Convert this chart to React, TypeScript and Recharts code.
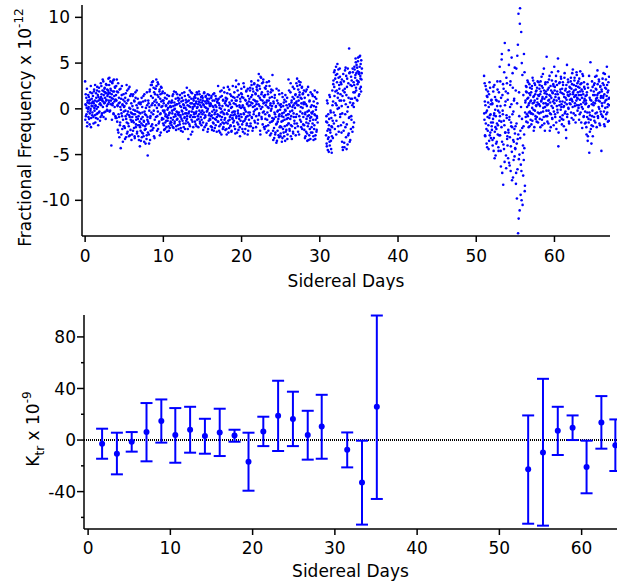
import { ScatterChart, Scatter, XAxis, YAxis, ErrorBar, ReferenceLine, Label } from "recharts";

const FONT = "'DejaVu Sans', Verdana, sans-serif";
const BLUE = "#0000ff";
const STEP = 0.05; // days between readings of one pass; the second pass sits half a step later

// top panel: fractional frequency (x 10^-12), three runs, two passes each
const runAStart = 0;
const runA = [
  3.0, 0.5, -0.8, 1.2, 0.1, -1.9, 0.7, -0.3, 1.5, 0.2, -1.1, 0.9, -0.5, 1.8, 0.0, -2.0, 0.6, 1.1, -0.7, 0.3,
  1.4, -0.9, 0.6, 2.1, -0.2, 0.9, -1.5, 0.3, 1.7, -0.6, 0.8, 2.4, -1.1, 0.2, 1.3, -0.4, 1.9, 0.5, -1.3, 1.0,
  2.8, 0.4, 1.6, -0.5, 1.1, 3.2, 0.8, -0.9, 1.9, 0.6, 2.3, 1.2, -0.3, 1.7, 0.9, 2.6, -0.1, 1.4, 0.5, 2.0,
  1.8, 0.7, 3.4, 1.3, -0.2, 2.2, 0.9, -4.0, 1.6, 2.9, 0.4, 1.1, 3.1, -0.6, 1.9, 0.8, 2.4, 1.0, -1.0, 1.5,
  0.9, 3.2, -1.4, 0.3, 1.8, -2.6, 0.6, -0.9, 2.1, -1.8, 0.2, -4.3, 1.1, -0.5, 2.5, -2.2, 0.4, -1.2, 1.6, -0.3,
  -1.9, 0.8, -3.3, -0.2, 1.7, -1.1, 2.6, -2.7, -0.6, 0.9, -1.6, 2.2, -3.0, 0.1, -0.9, 1.4, -2.3, -0.4, 0.6, -1.4,
  -2.8, 0.3, -1.3, 1.6, -0.6, -2.1, 0.8, -3.2, -0.2, 1.2, -1.7, -0.9, 2.0, -2.5, 0.1, -1.1, -3.0, 0.6, -0.4, -1.8,
  -4.1, -0.5, -2.4, 0.7, -1.6, -3.1, 0.2, -0.9, -2.7, 1.4, -1.3, -3.6, -0.3, -1.9, 0.9, -2.2, -0.7, -3.3, 1.8, -1.2,
  -5.1, -1.4, 0.6, -2.8, -0.2, 1.9, -3.4, -0.8, 2.6, -1.9, 0.4, 2.9, -2.3, 1.2, -0.6, 2.3, -3.0, 0.8, -1.2, 1.6,
  2.2, -0.9, 3.2, 0.7, -2.4, 1.5, -0.3, 2.7, -1.6, 0.4, 1.9, -2.9, 1.1, -0.5, 2.4, 0.2, -1.2, 1.7, 0.9, -0.2,
  -1.1, 0.6, -2.3, -0.2, 1.2, -1.5, -0.6, 0.4, -2.0, -0.9, 1.5, -1.3, 0.1, -0.7, -2.4, 0.8, -0.4, -1.6, 0.3, -1.0,
  0.2, -1.8, 0.9, -0.5, -1.2, 1.6, -2.1, -0.1, 0.7, -1.4, 0.4, -0.8, 1.8, -1.9, -0.3, 0.5, -1.1, 1.2, -0.6, -2.2,
  -0.4, 1.1, -1.7, 0.3, -0.9, -2.4, 0.8, -0.2, 1.7, -1.3, -0.6, 0.5, -2.0, 0.1, -1.0, 1.4, -0.5, -1.6, 0.7, -0.1,
  2.3, -0.8, 0.4, -1.5, -3.3, 0.9, -0.3, 1.3, -1.9, 0.2, -0.7, 1.8, -1.2, 0.6, -2.5, 0.0, -0.9, 1.1, -0.4, 0.5,
  0.3, -1.4, 1.2, -0.5, 0.8, -1.9, 0.1, 1.6, -0.8, 0.5, -1.1, 1.9, -0.2, 0.7, -1.6, 1.0, -0.4, 0.2, -1.2, 1.4,
  -0.6, 0.9, -2.3, 0.4, 1.7, -1.0, 0.2, -0.7, 1.3, -1.8, 0.6, -0.3, 1.1, -2.5, 0.0, 0.8, -1.3, 1.5, -0.5, 0.3,
  -1.2, 0.5, -0.8, 1.4, -2.0, -0.3, 0.9, -1.5, 0.2, -2.4, 1.7, -0.6, -1.1, 0.4, -1.8, 1.1, -0.2, -0.9, 0.7, -1.4,
  2.5, -0.7, 0.6, -1.9, 0.1, -2.6, 1.3, -0.4, -1.2, 2.0, -0.9, 0.3, -2.2, 1.0, -0.5, -1.6, 1.8, -0.1, -1.0, 0.8,
  -1.5, 0.4, -2.8, 1.1, -0.6, 2.4, -1.3, -0.2, -2.1, 0.7, -0.9, 1.6, -1.8, 0.1, -2.5, 0.9, -0.4, -1.1, 1.3, -0.7,
  0.6, -1.9, 1.2, -0.3, -2.7, 0.9, 3.1, -0.8, 0.3, -1.5, 2.0, -0.5, -2.3, 1.5, -1.1, 0.2, -3.0, 0.8, -0.6, 1.7,
  -0.9, 1.3, -2.2, 0.4, -1.4, 2.8, -0.6, 0.1, -2.7, 1.0, -1.1, -0.3, 1.9, -1.8, 0.6, -0.8, 2.2, -2.4, 0.3, -1.2,
  1.1, -0.4, 2.3, -1.6, 0.7, 3.0, -0.9, 1.5, -2.4, 0.2, 1.9, -0.6, 2.7, -1.3, 0.9, -0.1, 1.6, -2.0, 0.5, 2.1,
  0.8, 2.6, -1.2, 1.4, 3.8, -0.5, 0.3, 2.2, -2.8, 1.0, 3.4, -0.9, 1.8, 0.2, -1.7, 2.9, 0.6, -0.3, 1.3, -2.2,
  1.5, -1.1, 0.4, 2.5, -2.6, 0.9, -0.4, 1.9, -1.8, 0.1, 3.0, -0.8, 1.2, -2.9, 0.6, -0.2, 2.1, -1.4, 0.3, 3.7,
  -1.3, -3.4, 0.6, -2.1, -0.4, 1.5, -2.8, -0.9, 0.3, -3.7, -1.6, 0.9, -2.4, -0.2, -1.1, 2.0, -3.1, -0.6, 0.4, -1.9,
  -2.7, 0.2, -1.4, -3.6, -0.5, 1.3, -2.2, -0.9, 0.7, -3.0, -1.2, -0.1, 1.5, -2.5, -0.7, 0.4, -1.8, -3.3, 0.1, -1.0,
  3.2, -1.6, 0.5, -2.4, -0.3, 1.8, -3.0, -0.8, 0.9, -1.9, 0.2, 2.4, -2.7, -0.5, 1.1, -1.3, 0.6, -2.1, 1.6, -0.9,
  2.8, -0.6, 3.3, 0.4, -1.9, 2.1, 0.9, -2.8, 1.5, 2.6, -0.3, 1.2, -1.4, 0.6, 2.3, -2.2, 0.1, 1.7, -0.9, 0.5,
  -1.8, 0.7, -3.2, -0.4, 1.9, -2.5, -1.1, 0.3, -3.5, -0.8, 2.4, -1.6, -0.2, -2.9, 0.9, -1.3, -3.3, 0.2, -0.9, -2.0,
  -0.5, -2.6, 1.4, -1.2, -3.4, 0.3, -1.8, 2.0, -0.7, -2.9, -0.1, 1.1, -2.3, -1.0, 0.6,
];
const runA2 = [
  -1.2, 1.6, 0.4, -0.6, 2.2, -1.5, 0.9, 0.0, -0.9, 1.3, 0.6, -1.7, 1.0, -0.2, 2.5, -1.0, 0.3, 1.7, -0.4, 0.8,
  0.7, -1.6, 1.9, 0.1, -0.7, 2.6, 0.4, -1.0, 1.2, 0.0, 2.0, -0.5, 1.5, -1.8, 0.9, 2.3, -0.3, 1.1, 0.6, -0.9,
  1.3, 2.5, -0.7, 0.9, 2.0, 0.2, 3.0, 1.5, -0.4, 2.2, 0.7, 1.8, -1.1, 2.7, 1.0, 0.3, 2.1, -0.2, 1.6, 3.3,
  0.9, 2.6, -0.3, 1.7, 3.0, 0.5, 2.0, 1.2, -1.2, 2.8, 0.6, 1.9, -0.5, 3.2, 1.4, 0.2, 2.3, -0.8, 1.0, 2.5,
  -1.0, 1.9, 0.4, -2.3, 2.8, -0.6, 1.2, -3.1, 0.7, -1.5, 2.2, -0.1, -2.8, 1.5, -0.8, 0.5, -3.6, 1.0, -1.9, 0.2,
  0.3, -2.1, 1.2, -0.8, -3.1, 0.6, -1.5, 2.0, -2.5, -0.3, 1.0, -1.9, -0.7, 2.4, -2.9, 0.0, -1.2, 1.6, -3.4, -0.5,
  -0.9, 1.4, -2.4, -0.1, -1.5, 0.9, -3.0, -0.6, 1.8, -2.0, -1.2, 0.4, -2.7, -0.3, 1.1, -1.8, -0.8, -3.4, 0.7, -1.4,
  -2.0, 0.5, -3.5, -1.1, 1.2, -2.6, -0.4, -1.8, 0.8, -3.0, -1.4, 1.6, -2.3, -0.6, -3.8, 0.1, -1.7, -2.9, 0.4, -0.9,
  -2.6, 0.9, -1.6, -3.8, 0.2, 2.1, -1.0, -2.4, 1.4, -0.4, 2.6, -1.7, 0.6, 3.0, -2.1, -0.2, 1.8, -3.2, 0.4, 2.2,
  1.0, -1.8, 2.5, 0.1, -0.8, 2.9, -2.2, 1.3, 0.5, -1.4, 2.1, -0.6, 1.6, -2.6, 0.8, 2.3, -1.0, 0.3, 1.9, -1.6,
  0.9, -1.8, -0.4, 1.7, -2.2, -0.8, 0.3, -1.3, 1.1, -2.5, -0.1, -1.0, 0.6, -1.9, 1.4, -0.5, -2.1, 0.2, -1.4, 0.7,
  -1.5, 0.7, -0.2, 1.4, -2.0, 0.3, -0.9, 1.9, -1.6, 0.0, -0.6, 1.1, -2.3, 0.5, -1.2, 1.6, -0.4, -1.8, 0.9, -0.7,
  0.6, -1.4, 1.5, -0.7, -2.1, 0.2, -1.1, 1.2, -0.3, -2.5, 0.9, -1.6, 0.4, 1.8, -0.9, -2.2, 0.1, 1.0, -1.3, -0.5,
  -1.1, 0.8, -2.2, 1.5, -0.5, 0.3, -1.7, 2.0, -0.9, 0.6, -2.8, 1.1, -0.3, 1.7, -1.4, 0.2, -2.0, 0.9, -0.6, 1.3,
  -0.9, 1.5, -1.7, 0.6, -0.3, 1.8, -1.2, 0.2, 1.1, -2.0, 0.8, -0.6, 1.6, -1.4, 0.4, -0.9, 1.3, -1.8, 0.7, -0.2,
  1.2, -1.5, 0.5, -0.4, 1.8, -2.0, 0.8, -0.9, 1.4, 0.1, -1.6, 0.9, -0.2, 1.6, -2.2, 0.6, -0.7, 1.1, -1.1, 0.4,
  0.6, -1.9, 1.2, -0.7, -2.3, 0.3, -1.0, 1.6, -1.6, -0.1, 0.9, -2.1, -0.4, 1.4, -1.2, 0.2, -2.5, 0.8, -0.6, 1.0,
  -1.4, 1.1, -2.4, 0.4, -0.8, 1.9, -1.7, 0.0, -2.8, 1.4, -0.3, -1.5, 0.9, -2.0, 2.3, -0.6, -1.2, 0.6, -2.3, 1.2,
  0.9, -2.2, -0.5, 1.7, -1.6, 0.3, -2.6, -0.2, 2.1, -1.2, 0.5, -1.9, -0.7, 1.4, -2.4, 0.2, -1.0, 2.5, -1.5, -0.3,
  -1.3, 1.8, -0.6, -2.2, 0.5, 2.4, -1.0, 0.9, -2.6, 1.3, -0.2, -1.7, 2.7, -0.8, 0.4, -2.0, 1.1, -1.3, 0.1, 2.2,
  1.6, -1.7, 0.2, -2.5, 1.2, -0.5, 2.4, -1.3, -0.1, -2.2, 0.9, -0.9, 2.0, -1.6, 0.5, -2.8, 1.4, -0.4, 0.8, -1.9,
  -0.7, 2.0, 0.4, -1.9, 1.3, 2.6, -1.0, 0.6, 2.2, -2.1, 1.0, -0.3, 2.8, 0.3, -1.5, 1.7, 0.8, -0.8, 2.4, 0.0,
  2.0, -1.6, 3.1, 0.5, -0.7, 2.5, 1.2, -2.4, 3.5, 0.0, 1.6, -1.1, 2.8, 0.9, -0.4, 3.2, 1.4, -2.0, 0.7, 2.3,
  -0.6, 2.2, -1.9, 0.7, 2.9, -1.2, 0.2, 1.6, -2.4, 0.9, -0.7, 2.5, -1.5, 0.4, 1.8, -2.7, 0.0, 1.3, -1.0, 2.0,
  -2.4, 0.8, -1.1, -3.2, 1.2, -0.6, -2.6, 0.2, -1.7, 2.2, -3.5, -0.3, -1.4, 0.6, -2.9, -0.8, 1.6, -2.0, -0.1, -3.0,
  0.5, -2.0, -0.8, 1.7, -3.2, -1.3, 0.3, -2.6, -0.4, 1.0, -1.9, -3.5, -0.2, 0.8, -2.3, -1.1, 1.2, -2.8, -0.6, -1.6,
  -0.6, 2.0, -2.2, 0.3, -1.1, 2.8, -1.8, 0.7, -3.3, -0.2, 1.3, -2.5, 0.4, -0.9, 2.2, -1.6, 0.1, 1.5, -2.9, 0.6,
  0.8, -1.6, 2.5, 1.3, -2.5, 0.4, 3.0, -0.8, 1.8, -1.2, 2.9, 0.2, -2.0, 1.1, 2.4, -0.5, 1.6, -1.7, 0.7, 2.0,
  -2.3, 1.2, -0.6, -3.0, 0.5, -1.5, 2.1, -2.7, -0.3, -1.9, 1.5, -3.4, -0.7, 0.8, -2.2, -1.0, 1.8, -2.6, -0.4, 0.4,
  1.6, -1.6, -0.3, -3.0, 0.8, -2.2, -0.6, 1.3, -3.3, -1.2, 0.2, -2.5, -0.8, 1.8, -1.5,
];

const runBStart = 30.8;
const runB = [
  -2.9, -0.8, -4.1, -1.5, 0.6, -3.3, -2.2, -4.7, -1.1, -3.6, 1.3, -2.6, -0.4, -4.4, -1.9, -3.0, 2.0, -1.3,
  0.8, 3.1, -1.6, 2.4, 4.2, -0.7, 1.9, 3.7, -2.8, 0.4, 2.9, 4.9, 1.2, -1.9, 3.4, 0.1, 2.2, 4.4, -0.9, 1.6,
  -1.8, 2.7, 0.3, -3.6, 1.4, -4.5,
  3.8, -2.4, 0.9, -4.2, 2.2, -0.6, 4.5, -3.1, 1.5, -1.7, 3.3, -3.9, 0.2, 2.8, -2.7, 6.6, -0.9, 4.0, -3.4, 1.1,
  3.5, -1.2, 2.5, 0.4, 4.4, -2.0, 1.8, 0.2,
  2.6, 4.3, 1.2, 3.7, 5.1, 2.0, 4.8, 3.1, 0.9, 4.1, 5.6, 2.9, 3.8, 1.6, 4.6, 5.8, 3.3, 2.4, 5.3, 3.9,
];
const runB2 = [
  -1.4, -3.8, 0.9, -2.4, -4.5, -0.6, -3.1, -1.8, 1.5, -4.0, -2.3, -0.2, -3.5, -1.0, -4.8, -2.0, 0.4, -3.2,
  2.7, -0.4, 4.0, 1.4, -2.2, 3.3, 0.6, 4.6, -1.3, 2.0, 3.8, 0.0, 1.7, 4.3, -2.5, 2.6, 0.9, 3.5, -0.6, 2.9,
  0.9, -2.6, 3.2, -0.5, -4.2, 2.0,
  -1.5, 3.0, -3.7, 1.8, 4.2, -2.0, 0.5, 3.6, -4.4, 2.4, -0.3, 4.4, -2.9, 1.2, -1.0, 3.9, -3.6, 0.7, 2.6, -2.2,
  -0.8, 3.1, 1.1, -2.5, 4.0, 0.6, 2.9, -1.5,
  4.6, 1.8, 3.4, 5.5, 2.3, 3.9, 1.0, 4.5, 2.7, 5.2, 3.0, 1.4, 4.0, 5.7, 2.2, 3.6, 4.9, 1.9, 3.2, 4.4,
];

const runCStart = 51.0;
const runC = [
  3.6, -1.2, 0.8, -3.0, 2.5, -0.4, -2.2, 1.4, -4.2, -0.9, 1.9, -1.8, 0.2, -3.5, 2.9, -0.7, -2.6, 0.5, -1.5, 1.0,
  -2.3, 0.6, -4.0, -1.1, 2.4, -3.2, -0.5, -5.4, 1.3, -2.0, -0.8, -3.8, 0.9, -1.6, 3.0, -2.8, -0.2, -4.6, 1.8, -1.3,
  4.6, -2.9, 0.3, -6.3, -1.4, 5.4, -3.6, 1.5, -0.6, -8.3, 2.2, -4.4, -1.8, 7.2, -2.6, 0.8, -5.1, 3.4, -1.0, -3.3,
  -4.0, 1.7, -2.3, 6.4, -5.9, -0.9, -3.1, 2.6, -6.8, -1.5, 0.5, -4.7, -2.0, 3.9, -7.5, -0.3, -3.6, 1.1, -5.2, -2.7,
  -4.4, 2.0, -7.0, -1.6, -9.8, 5.8, -3.3, -13.6, 10.4, -5.5, -0.8, -11.1, 11.0, -2.4, -6.1, 8.4, -10.0, -1.1, 3.7, -4.8,
  -7.3, -1.9, 6.0, -4.3, -9.0, -0.4, 0.9, 2.5, -1.4, 1.8, 0.2, 3.1, -0.8, 1.2, -2.0, 0.6, 2.7, -0.3, 1.5, -1.2,
  0.9, -1.7, 2.2, 0.1, 3.4, -0.6, 1.3, -2.4, 0.7, 2.8, -0.2, 1.6, -1.1, 0.4, 2.0, -0.9, 1.1, 3.0, -1.5, 0.5,
  1.4, -0.5, 2.6, 0.3, -2.0, 1.9, 0.8, 3.5, -1.2, 1.1, 2.3, -0.3, 0.6, 4.4, -1.6, 1.7, 0.2, 2.9, -0.8, 1.3,
  5.7, 0.4, -1.4, 2.1, 0.9, -0.2, 3.2, 1.5, -2.4, 0.7, 2.5, -0.6, 1.2, 4.0, -1.0, 1.8, 0.1, 2.7, -1.8, 1.0,
  0.6, 2.4, -0.9, 1.6, 3.6, -2.2, 0.3, 1.9, -0.4, 5.5, -4.1, 1.2, 2.8, -1.3, 0.8, 2.1, -0.1, 3.3, 0.5, -1.7,
  1.7, -0.7, 2.6, 0.2, -1.9, 1.3, 3.9, 0.7, -0.3, 2.2, -3.2, 1.0, 4.8, -0.6, 1.5, 2.9, 0.0, -1.4, 1.9, 0.6,
  2.3, 0.5, 3.4, 1.1, -1.0, 2.7, 0.8, 4.3, 1.6, -0.5, 2.0, 3.1, 0.3, 1.4, -1.5, 2.5, 0.9, 3.7, 1.2, -0.2,
  1.8, 3.0, 0.4, -1.2, 2.3, 1.0, 4.1, -0.4, 1.5, 2.8, 0.2, -2.1, 1.9, 3.6, 0.7, -0.8, 2.4, 1.1, -1.6, 0.5,
  -1.5, 0.6, -2.8, 1.8, -0.4, -3.5, 2.3, -1.1, 0.3, -4.8, 1.2, -0.7, 5.1, -2.2, 0.9, -1.8, 3.0, -0.2, -3.0, 1.5,
  0.4, 2.6, -1.3, 1.5, 3.5, -0.5, 0.9, 2.1, -2.0, 1.2, 4.2, -0.8, 1.7, 0.2, 3.0, -1.6, 0.8, 2.4, -0.3, 1.4,
  -4.6, 1.9, 0.3, 3.3, -0.9, 1.4, 2.6, -1.7, 0.7, 3.8, 0.1, -1.1, 2.2, 1.0, 4.6, -0.4, 1.8, 0.5, 2.9, -1.3, 1.2,
];
const runC2 = [
  -0.5, 2.8, -2.9, 0.4, -1.6, 2.1, -3.8, -0.2, 1.3, -2.4, 0.7, -4.4, 1.6, -1.0, -2.9, 2.3, -0.6, -3.2, 0.9, -1.9,
  0.5, -3.4, -1.5, 1.9, -4.6, -0.7, 2.6, -2.5, -0.1, -5.1, 1.0, -2.2, -3.6, 0.3, 2.1, -1.8, -4.2, 0.8, -2.9, -0.4,
  -0.8, 3.0, -4.6, 1.2, -2.0, 6.0, -7.0, -0.2, 2.7, -3.9, -1.3, 4.0, -5.8, 0.4, -2.6, 1.9, -6.5, -0.7, 2.8, -3.0,
  1.0, -5.4, -2.6, 4.8, -1.2, -6.2, 0.2, 3.0, -4.1, -1.9, 5.6, -7.8, -0.6, 2.3, -3.4, -5.6, 0.9, -2.2, 4.5, -4.3,
  -1.9, -8.2, 4.4, -3.8, 0.6, -6.6, 7.0, -2.8, -12.0, 1.8, -5.0, 9.3, -3.2, -9.4, 0.2, -6.8, 5.0, -2.1, -10.5, -4.0,
  1.5, -5.6, -2.8, 4.0, -8.4, 0.7, -0.9, 1.9, 2.4, -0.6, 1.1, -1.5, 2.9, 0.4, -0.4, 1.7, -1.9, 2.3, 0.8, -0.5,
  1.8, -0.5, 2.5, -1.3, 0.6, 3.1, -0.1, 1.4, -2.0, 0.9, 2.6, -0.8, 1.9, 0.3, -1.4, 2.3, 0.7, -0.4, 1.5, 2.9,
  0.5, 2.2, -1.1, 1.6, 3.0, -0.4, 0.9, 2.5, -1.8, 1.3, 3.8, 0.1, -0.9, 2.0, 1.1, -2.4, 2.7, 0.6, 1.9, -0.2,
  1.6, -0.8, 2.9, 0.5, -1.6, 2.3, 1.0, 3.6, -0.5, 1.4, -2.0, 2.0, 0.3, 3.1, -1.1, 1.7, 0.8, 2.5, -0.3, 4.6,
  2.0, -0.6, 1.3, 3.0, -1.5, 0.9, 2.6, -0.1, 1.6, 4.1, -2.6, 1.1, 0.4, 2.9, -0.9, 1.8, 3.5, 0.2, -1.1, 2.2,
  0.8, 2.9, -1.2, 1.6, 0.3, 3.4, -0.5, 2.0, 1.2, -2.3, 2.6, 0.5, -0.9, 1.8, 3.2, 0.1, 1.4, -1.6, 2.4, 1.0,
  1.6, 3.0, -0.4, 2.2, 1.0, 3.9, 0.2, 1.8, -1.2, 2.6, 1.3, 3.4, 0.6, -0.7, 2.1, 1.5, 4.0, 0.4, 2.8, 1.1,
  2.4, 0.1, 1.5, 3.3, -0.6, 1.9, 2.7, 0.5, -1.5, 2.1, 1.2, 3.8, 0.0, 1.6, -0.9, 2.9, 0.9, 2.2, -0.3, 1.4,
  0.9, -2.0, 1.5, -0.9, 2.7, -3.0, 0.2, -1.5, 3.6, -0.4, -2.5, 1.0, -1.2, 2.0, -3.8, 0.5, -0.8, 2.4, -1.9, 0.7,
  1.9, -0.9, 2.8, 0.6, -1.5, 2.2, 1.1, 3.6, -0.4, 1.5, 2.7, -1.0, 0.9, 3.2, 0.0, 1.8, -1.8, 2.5, 1.2, -0.6,
  2.1, 0.6, -0.8, 2.8, 1.2, 3.9, -0.3, 1.6, -1.9, 2.3, 0.9, 3.2, -0.6, 1.4, 2.6, 0.2, -1.4, 2.0, 1.1, 3.5, 0.4,
];

const freqTicks = [-10, -5, 0, 5, 10];
const dayTicks = [0, 10, 20, 30, 40, 50, 60];

// bottom panel: K_tr (x 10^-9) per ~1.8 day bin
const kDays = [1.7, 3.5, 5.3, 7.1, 8.9, 10.6, 12.4, 14.2, 16.0, 17.8, 19.5, 21.3, 23.1, 24.9, 26.7, 28.4, 31.5, 33.3, 35.1, 53.5, 55.3, 57.1, 58.9, 60.6, 62.4, 64.1];
const kValues = [-2.8, -10.6, -1.3, 6.2, 14.7, 3.9, 8.0, 3.1, 5.9, 3.6, -16.8, 6.7, 18.9, 16.3, 3.9, 10.6, -7.5, -33.0, 25.8, -22.7, -9.6, 7.2, 9.5, -20.9, 13.7, -4.1];
const kLower = [-14.5, -26.6, -9.0, -16.5, -2.0, -17.6, -9.8, -10.6, -12.4, -1.3, -39.3, -4.7, -8.5, -4.7, -15.2, -14.5, -21.2, -65.6, -45.7, -64.9, -66.4, -11.6, 0.0, -41.3, -6.7, -24.0];
const kUpper = [8.8, 5.7, 6.2, 28.7, 31.5, 24.8, 25.8, 16.5, 24.3, 8.0, 5.7, 18.1, 46.0, 37.5, 22.7, 35.1, 5.9, -0.5, 96.6, 19.1, 47.5, 25.8, 19.1, -0.5, 34.1, 16.0];
const kTicks = [-60, -40, -20, 0, 20, 40, 60, 80];
const kLabeled = [-40, 0, 40, 80];

const toPoints = (start: number, vals: number[]) =>
  vals.map((v, i) => ({ day: +(start + i * STEP).toFixed(3), ff: v }));

const freqData = [
  ...toPoints(runAStart, runA),
  ...toPoints(runAStart + STEP / 2, runA2),
  ...toPoints(runBStart, runB),
  ...toPoints(runBStart + STEP / 2, runB2),
  ...toPoints(runCStart, runC),
  ...toPoints(runCStart + STEP / 2, runC2),
];

const kData = kDays.map((d, i) => ({
  day: d,
  k: kValues[i],
  err: [kValues[i] - kLower[i], kUpper[i] - kValues[i]],
}));

const tickStyle = { fill: "#000", fontSize: 17, fontFamily: FONT };
const axisStyle = { stroke: "#000", strokeWidth: 1.5 };

function Dot(props: any) {
  return <circle cx={props.cx} cy={props.cy} r={1.3} fill={BLUE} />;
}

function KDot(props: any) {
  return <circle cx={props.cx} cy={props.cy} r={3} fill={BLUE} />;
}

function KTick(props: any) {
  const { x, y, payload } = props;
  const major = kLabeled.includes(payload.value);
  const ax = x + 8;
  return (
    <g>
      <line x1={ax - (major ? 7 : 3)} x2={ax} y1={y} y2={y} stroke="#000" strokeWidth={1.5} />
      {major && (
        <text x={x} y={y} dy="0.36em" textAnchor="end" {...tickStyle}>
          {payload.value}
        </text>
      )}
    </g>
  );
}

function FreqLabel(props: any) {
  const vb = props.viewBox || { x: 0, y: 5, width: 82, height: 231 };
  const x = vb.x + 31;
  const y = vb.y + vb.height / 2 + 7;
  return (
    <text x={x} y={y} transform={`rotate(-90 ${x} ${y})`} textAnchor="middle" fill="#000" fontSize={17} fontFamily={FONT}>
      Fractional Frequency x 10
      <tspan dy={-8} fontSize={12}>-12</tspan>
    </text>
  );
}

function KLabel(props: any) {
  const vb = props.viewBox || { x: 0, y: 25, width: 84, height: 214 };
  const x = vb.x + 39;
  const y = vb.y + vb.height / 2 + 7;
  return (
    <text x={x} y={y} transform={`rotate(-90 ${x} ${y})`} textAnchor="middle" fill="#000" fontSize={17} fontFamily={FONT}>
      K
      <tspan dy={5} fontSize={12}>tr</tspan>
      <tspan dy={-5} fontSize={17}> x 10</tspan>
      <tspan dy={-8} fontSize={12}>-9</tspan>
    </text>
  );
}

function DaysLabel(offset: number) {
  return (props: any) => {
    const vb = props.viewBox;
    return (
      <text x={vb.x + vb.width / 2} y={vb.y + offset} textAnchor="middle" fill="#000" fontSize={17} fontFamily={FONT}>
        Sidereal Days
      </text>
    );
  };
}

export default function App() {
  return (
    <div style={{ position: "absolute", left: 0, top: 0, width: 617, height: 582, background: "#fff" }}>
      <ScatterChart width={617} height={290} margin={{ top: 5, right: 7, left: 0, bottom: 0 }}>
        <XAxis
          type="number"
          dataKey="day"
          domain={[-0.4, 67.1]}
          ticks={dayTicks}
          allowDataOverflow
          height={54}
          tickSize={6}
          tickMargin={8}
          tick={tickStyle}
          axisLine={axisStyle}
          tickLine={axisStyle}
        >
          <Label content={DaysLabel(51)} />
        </XAxis>
        <YAxis
          type="number"
          dataKey="ff"
          domain={[-13.9, 11.35]}
          ticks={freqTicks}
          allowDataOverflow
          width={82}
          tickSize={7}
          tickMargin={5}
          tick={tickStyle}
          axisLine={axisStyle}
          tickLine={axisStyle}
        >
          <Label content={FreqLabel} />
        </YAxis>
        <Scatter data={freqData} shape={Dot} isAnimationActive={false} />
      </ScatterChart>
      <ScatterChart width={617} height={292} margin={{ top: 25, right: 0, left: 0, bottom: 0 }}>
        <XAxis
          type="number"
          dataKey="day"
          domain={[-0.5, 64.3]}
          ticks={dayTicks}
          allowDataOverflow
          height={53}
          tickSize={6}
          tickMargin={7}
          tick={tickStyle}
          axisLine={axisStyle}
          tickLine={axisStyle}
        >
          <Label content={DaysLabel(48)} />
        </XAxis>
        <YAxis
          type="number"
          dataKey="k"
          domain={[-69, 97]}
          ticks={kTicks}
          allowDataOverflow
          width={84}
          tickSize={7}
          tickMargin={1}
          tick={<KTick />}
          axisLine={axisStyle}
          tickLine={false}
        >
          <Label content={KLabel} />
        </YAxis>
        <ReferenceLine y={0} stroke="#000" strokeWidth={2} strokeDasharray="1 1" />
        <Scatter data={kData} shape={KDot} isAnimationActive={false}>
          <ErrorBar dataKey="err" direction="y" width={6} stroke={BLUE} strokeWidth={2} isAnimationActive={false} />
        </Scatter>
      </ScatterChart>
    </div>
  );
}
